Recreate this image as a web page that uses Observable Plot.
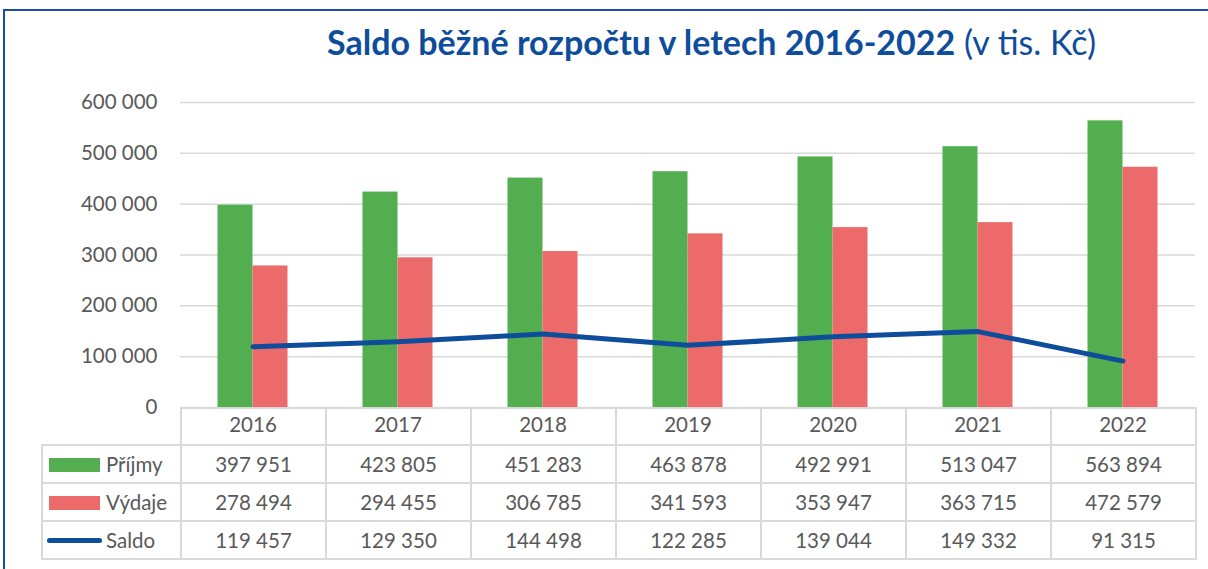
<!DOCTYPE html>
<html>
<head>
<meta charset="utf-8">
<script src="https://cdn.jsdelivr.net/npm/d3@7"></script>
<script src="https://cdn.jsdelivr.net/npm/@observablehq/plot@0.6"></script>
<style>
  body { margin:0; width:1208px; height:569px; overflow:hidden; position:relative; background:#fff; font-family: Lato, "Open Sans", sans-serif; }
  #frame { position:absolute; left:3px; top:9px; width:1300px; height:700px; border-left:2px solid #1a4d9e; border-top:2px solid #1a4d9e; }
  #title { position:absolute; left:327px; top:21px; white-space:nowrap; color:#0e4c9c; font-size:34px; }
  #title b { font-weight:700; }
  #chart { position:absolute; left:0; top:0; }
  #tbl { position:absolute; left:41px; top:407px; border-collapse:collapse; table-layout:fixed; font-size:20.5px; color:#595959; }
  #tbl td { border:2px solid #d9d9d9; padding:0; text-align:center; height:36px; }
  #tbl tr.head td { height:35px; }
  #tbl td.corner { border-top:none; border-left:none; }
  #tbl td.lab { text-align:left; padding-left:6px; white-space:nowrap; }
  .sw { display:inline-block; width:51px; height:14px; vertical-align:middle; margin-right:6px; position:relative; top:-2px; }
  .swl { display:inline-block; width:55px; height:5px; border-radius:3px; vertical-align:middle; margin-left:-2px; margin-right:4px; position:relative; top:-2px; }
</style>
</head>
<body>
<div id="chart"></div>
<div id="frame"></div>
<div id="title"><b>Saldo běžné rozpočtu v letech 2016-2022</b> (v tis. Kč)</div>
<table id="tbl"></table>
<script>
const years = ["2016", "2017", "2018", "2019", "2020", "2021", "2022"];
const prijmy = [397951, 423805, 451283, 463878, 492991, 513047, 563894];
const vydaje = [278494, 294455, 306785, 341593, 353947, 363715, 472579];
const saldo = [119457, 129350, 144498, 122285, 139044, 149332, 91315];
const yTicks = [0, 100000, 200000, 300000, 400000, 500000, 600000];
const seriesNames = ["Příjmy", "Výdaje", "Saldo"];
const colors = { prijmy: "#53ae4f", vydaje: "#ec6a6a", saldo: "#0e4c9c" };

const data = years.map((y, i) => ({ year: y, prijmy: prijmy[i], vydaje: vydaje[i], saldo: saldo[i] }));
const fmt = d3.formatLocale({ decimal: ",", thousands: " ", grouping: [3], currency: ["", ""] }).format(",");

const plot = Plot.plot({
  width: 1208, height: 445,
  marginLeft: 180, marginRight: 13, marginTop: 102, marginBottom: 38,
  style: { fontFamily: 'Lato, "Open Sans", sans-serif', fontSize: "20.5px", color: "#595959", background: "transparent" },
  x: { domain: years, padding: 0, label: null, tickSize: 0, tickPadding: 10 },
  y: { domain: [0, 600000], ticks: yTicks, tickFormat: fmt, label: null, tickSize: 0, tickPadding: 23 },
  marks: [
    Plot.ruleY(yTicks, { stroke: "#d9d9d9", strokeWidth: 1.5 }),
    Plot.barY(data, { x: "year", y: "prijmy", fill: colors.prijmy, insetLeft: 37.5, insetRight: 72.5 }),
    Plot.barY(data, { x: "year", y: "vydaje", fill: colors.vydaje, insetLeft: 72.5, insetRight: 37.5 }),
    Plot.lineY(data, { x: "year", y: "saldo", stroke: colors.saldo, strokeWidth: 5 })
  ]
});
document.getElementById("chart").appendChild(plot);

// data table
const tbl = document.getElementById("tbl");
const cg = document.createElement("colgroup");
[139, ...years.map(() => 145)].forEach(w => { const c = document.createElement("col"); c.style.width = w + "px"; cg.appendChild(c); });
tbl.appendChild(cg);
const head = document.createElement("tr"); head.className = "head";
head.innerHTML = '<td class="corner"></td>' + years.map(() => "<td></td>").join("");
tbl.appendChild(head);
const rows = [
  { name: seriesNames[0], vals: prijmy, sw: `<span class="sw" style="background:${colors.prijmy}"></span>` },
  { name: seriesNames[1], vals: vydaje, sw: `<span class="sw" style="background:${colors.vydaje}"></span>` },
  { name: seriesNames[2], vals: saldo, sw: `<span class="swl" style="background:${colors.saldo}"></span>` }
];
rows.forEach(r => {
  const tr = document.createElement("tr");
  tr.innerHTML = `<td class="lab">${r.sw}${r.name}</td>` + r.vals.map(v => `<td>${fmt(v)}</td>`).join("");
  tbl.appendChild(tr);
});
</script>
</body>
</html>
